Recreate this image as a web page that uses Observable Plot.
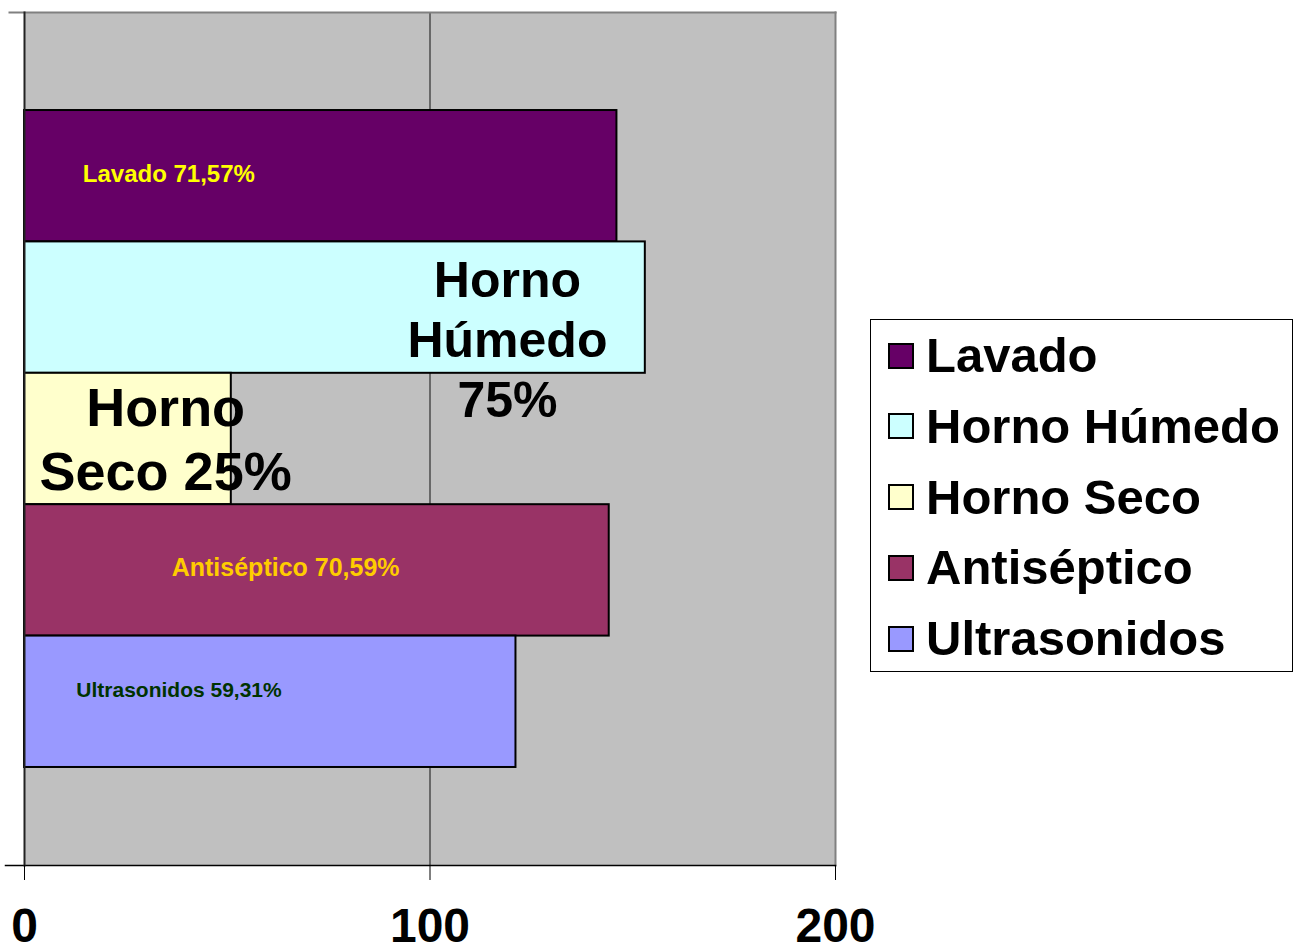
<!DOCTYPE html>
<html><head><meta charset="utf-8">
<script src="https://cdn.jsdelivr.net/npm/d3@7"></script>
<script src="https://cdn.jsdelivr.net/npm/@observablehq/plot@0.6"></script>
<style>
body{margin:0;background:#fff;font-family:"Liberation Sans",Arial,sans-serif;}
#wrap{position:relative;width:1302px;height:950px;}
#legend{position:absolute;left:870px;top:319px;width:421px;height:351px;border:1px solid #000;background:#fff;}
.row{position:absolute;left:17px;height:71px;display:flex;align-items:center;font-weight:bold;font-size:49px;line-height:71px;color:#000;white-space:nowrap}
.sw{width:22px;height:22px;border:2px solid #000;margin-right:12px;flex:none}
</style></head><body><div id="wrap"><div id="chart"></div><div id="legend"></div></div>
<script>
const series = ["Lavado", "Horno Húmedo", "Horno Seco", "Antiséptico", "Ultrasonidos"];
const values = [146.1, 153.1, 51.0, 144.2, 121.2];
const colors = ["#660066", "#CCFFFF", "#FFFFCC", "#993366", "#9999FF"];
const labels = ["Lavado 71,57%", "Horno\nHúmedo\n75%", "Horno\nSeco 25%", "Antiséptico 70,59%", "Ultrasonidos 59,31%"];
const xTicks = [0, 100, 200];

const rows = series.map((s, i) => ({series: s, value: values[i]}));

// label placement (x in data units, pixel offsets and styles)
const place = [
  {x: 35.6, dy: -2, size: 24, color: "#FFFF00", lh: 1},
  {x: 119.1, dy: 30, size: 50, color: "#000000", lh: 1.2},
  {x: 34.8, dy: -1.5, size: 54, color: "#000000", lh: 1.185},
  {x: 64.4, dy: -2, size: 25, color: "#FFCC00", lh: 1},
  {x: 38.1, dy: -12, size: 21, color: "#003300", lh: 1}
];

const textMarks = labels.map((t, i) => Plot.text([{series: series[i], t}], {
  x: () => place[i].x, y: "series", text: "t",
  dy: place[i].dy, fontSize: place[i].size, fill: place[i].color,
  fontWeight: "bold", lineHeight: place[i].lh, textAnchor: "middle",
  fontFamily: "Liberation Sans, Arial, sans-serif"
}));

const chart = Plot.plot({
  width: 1302, height: 950,
  marginLeft: 24, marginRight: 467, marginTop: 12, marginBottom: 85,
  style: {fontFamily: "Liberation Sans, Arial, sans-serif", background: "transparent", overflow: "visible", color: "#000"},
  x: {domain: [0, 200], ticks: xTicks},
  y: {type: "band", domain: series, paddingInner: 0, paddingOuter: 0.746, round: false, axis: null},
  color: {domain: series, range: colors},
  marks: [
    Plot.frame({fill: "#C0C0C0", stroke: null}),
    Plot.ruleX([100], {stroke: "#111", strokeWidth: 1}),
    Plot.frame({anchor: "top", stroke: "#808080", strokeWidth: 2, insetLeft: -15}),
    Plot.frame({anchor: "right", stroke: "#808080", strokeWidth: 2}),
    Plot.barX(rows, {x: "value", y: "series", fill: "series", stroke: "#000", strokeWidth: 2}),
    Plot.frame({anchor: "bottom", stroke: "#000", strokeWidth: 1.5, insetLeft: -19}),
    Plot.frame({anchor: "left", stroke: "#222", strokeWidth: 2}),
    Plot.axisX(xTicks, {tickSize: 15, tickPadding: 27, fontSize: 48, fontWeight: "bold", label: null, stroke: "#000", fill: "#000", tickFormat: d => String(d)}),
    ...textMarks
  ]
});
document.getElementById("chart").appendChild(chart);

const legend = document.getElementById("legend");
series.forEach((s, i) => {
  const r = document.createElement("div");
  r.className = "row";
  r.style.top = (i * 70.75) + "px";
  const sw = document.createElement("span");
  sw.className = "sw";
  sw.style.background = colors[i];
  r.appendChild(sw);
  r.appendChild(document.createTextNode(s));
  legend.appendChild(r);
});
</script></body></html>
